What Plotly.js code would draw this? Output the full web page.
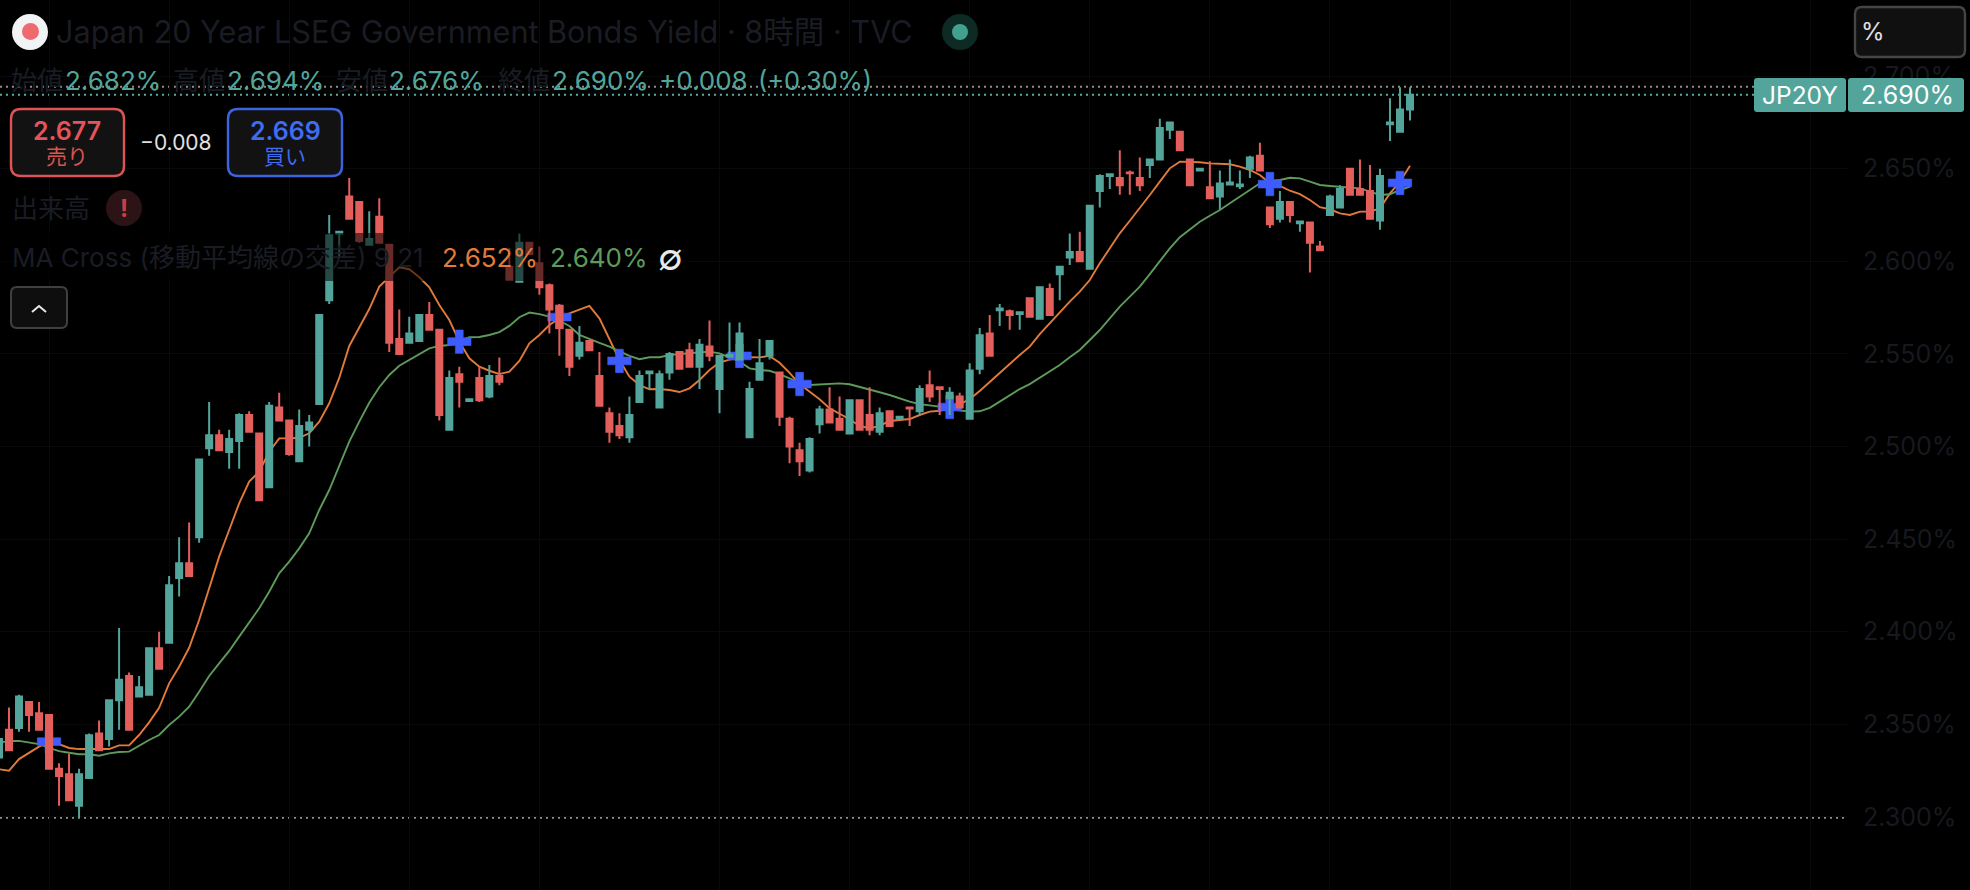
<!DOCTYPE html>
<html><head><meta charset="utf-8">
<script src="https://cdn.plot.ly/plotly-3.0.1.min.js"></script>
<style>html,body{margin:0;padding:0;background:#000;overflow:hidden}#c{width:1970px;height:890px}</style>
</head><body><div id="c"></div>
<script>
var firstBar = -1;
var open = [2.332,2.347,2.348,2.362,2.356,2.355,2.326,2.323,2.306,2.321,2.345,2.342,2.363,2.376,2.365,2.366,2.391,2.394,2.429,2.437,2.451,2.499,2.506,2.497,2.503,2.517,2.507,2.478,2.521,2.514,2.492,2.509,2.523,2.579,2.615,2.635,2.632,2.609,2.624,2.609,2.558,2.556,2.557,2.571,2.563,2.509,2.539,2.5245,2.537,2.527,2.538,2.597,2.589,2.610,2.599,2.587,2.576,2.563,2.549,2.557,2.538,2.518,2.511,2.505,2.524,2.5395,2.521,2.540,2.551,2.552,2.543,2.554,2.531,2.5485,2.547,2.505,2.536,2.549,2.540,2.515,2.498,2.487,2.512,2.520,2.515,2.507,2.525,2.517,2.508,2.519,2.515,2.521,2.519,2.533,2.532,2.526,2.527,2.515,2.542,2.561,2.5735,2.573,2.5715,2.580,2.569,2.585,2.593,2.602,2.605,2.596,2.638,2.646,2.645,2.648,2.645,2.652,2.655,2.671,2.670,2.655,2.649,2.640,2.635,2.6415,2.6405,2.650,2.657,2.629,2.623,2.632,2.6205,2.621,2.608,2.625,2.629,2.650,2.639,2.638,2.622,2.674,2.670,2.682];
var high = [2.342,2.359,2.366,2.362,2.362,2.355,2.329,2.334,2.326,2.345,2.352,2.363,2.402,2.378,2.376,2.391,2.400,2.430,2.451,2.459,2.493,2.524,2.509,2.509,2.518,2.519,2.507,2.524,2.529,2.514,2.520,2.517,2.571,2.625,2.616,2.645,2.632,2.627,2.634,2.609,2.574,2.570,2.571,2.578,2.563,2.541,2.543,2.5255,2.543,2.544,2.548,2.607,2.615,2.610,2.608,2.588,2.577,2.563,2.565,2.557,2.551,2.521,2.518,2.527,2.541,2.5405,2.541,2.551,2.551,2.556,2.558,2.568,2.549,2.567,2.567,2.535,2.558,2.557,2.540,2.516,2.502,2.505,2.522,2.532,2.527,2.525,2.525,2.532,2.521,2.519,2.516,2.5215,2.533,2.541,2.532,2.532,2.529,2.545,2.564,2.571,2.577,2.574,2.5725,2.580,2.586,2.588,2.597,2.615,2.616,2.630,2.647,2.647,2.660,2.649,2.656,2.655,2.677,2.675,2.670,2.655,2.650,2.654,2.649,2.655,2.649,2.657,2.664,2.629,2.638,2.632,2.6215,2.621,2.611,2.636,2.641,2.650,2.655,2.652,2.650,2.688,2.694,2.694];
var low = [2.332,2.336,2.346,2.346,2.347,2.326,2.306,2.309,2.2995,2.321,2.336,2.338,2.347,2.347,2.365,2.366,2.380,2.394,2.419,2.430,2.448,2.495,2.498,2.488,2.488,2.508,2.471,2.478,2.514,2.495,2.492,2.500,2.523,2.577,2.602,2.623,2.610,2.609,2.610,2.551,2.550,2.556,2.557,2.563,2.514,2.509,2.521,2.5245,2.524,2.526,2.533,2.590,2.589,2.604,2.582,2.561,2.549,2.538,2.547,2.552,2.522,2.502,2.504,2.502,2.524,2.531,2.521,2.536,2.542,2.543,2.531,2.546,2.518,2.548,2.547,2.505,2.536,2.547,2.511,2.491,2.484,2.486,2.507,2.513,2.509,2.507,2.509,2.506,2.506,2.511,2.515,2.511,2.517,2.524,2.517,2.517,2.521,2.515,2.539,2.549,2.565,2.563,2.563,2.570,2.569,2.571,2.579,2.598,2.600,2.596,2.629,2.639,2.636,2.636,2.638,2.645,2.655,2.666,2.660,2.641,2.649,2.634,2.628,2.641,2.639,2.645,2.649,2.618,2.621,2.621,2.616,2.594,2.606,2.625,2.629,2.636,2.636,2.623,2.617,2.665,2.670,2.676];
var close = [2.342,2.336,2.365,2.355,2.347,2.326,2.322,2.309,2.323,2.344,2.336,2.363,2.374,2.347,2.370,2.391,2.380,2.425,2.437,2.430,2.493,2.506,2.498,2.504,2.517,2.508,2.471,2.522,2.514,2.496,2.511,2.513,2.571,2.614,2.616,2.623,2.611,2.612,2.610,2.556,2.550,2.561,2.571,2.563,2.517,2.537,2.535,2.5255,2.525,2.538,2.535,2.590,2.610,2.604,2.586,2.574,2.564,2.543,2.556,2.552,2.522,2.508,2.506,2.517,2.538,2.5405,2.539,2.550,2.542,2.543,2.555,2.549,2.549,2.5495,2.561,2.531,2.545,2.557,2.516,2.500,2.492,2.504,2.520,2.513,2.509,2.525,2.509,2.509,2.518,2.511,2.516,2.5205,2.531,2.527,2.531,2.529,2.521,2.541,2.560,2.549,2.5745,2.571,2.5725,2.570,2.586,2.571,2.597,2.605,2.600,2.630,2.646,2.647,2.641,2.6475,2.641,2.655,2.672,2.675,2.660,2.641,2.650,2.634,2.642,2.6425,2.6415,2.656,2.649,2.620,2.632,2.625,2.6215,2.610,2.606,2.635,2.639,2.636,2.636,2.623,2.646,2.675,2.682,2.690];
var ma9 = [2.3257,2.3249,2.3312,2.3345,2.3379,2.3406,2.3393,2.3372,2.3366,2.3366,2.3366,2.3366,2.3386,2.3386,2.3442,2.3510,2.3589,2.3721,2.3811,2.3913,2.4063,2.4236,2.4405,2.4549,2.4693,2.4810,2.4864,2.4972,2.5044,2.5044,2.5047,2.5071,2.5134,2.5233,2.5370,2.5543,2.5643,2.5742,2.5863,2.5917,2.5968,2.5957,2.5914,2.5860,2.5764,2.5683,2.5566,2.5476,2.5431,2.5409,2.5391,2.5404,2.5462,2.5557,2.5602,2.5656,2.5692,2.5719,2.5741,2.5759,2.5692,2.5575,2.5467,2.5377,2.5332,2.5309,2.5310,2.5305,2.5294,2.5314,2.5359,2.5413,2.5453,2.5469,2.5475,2.5482,2.5481,2.5489,2.5452,2.5398,2.5337,2.5296,2.5255,2.5206,2.5175,2.5147,2.5111,2.5098,2.5111,2.5138,2.5143,2.5148,2.5170,2.5188,2.5193,2.5206,2.5229,2.5255,2.5300,2.5347,2.5398,2.5445,2.5494,2.5539,2.5607,2.5667,2.5728,2.5782,2.5836,2.5899,2.5989,2.6070,2.6151,2.6219,2.6286,2.6358,2.6430,2.6502,2.6538,2.6538,2.6535,2.6529,2.6525,2.6524,2.6511,2.6493,2.6466,2.6421,2.6407,2.6381,2.6363,2.6331,2.6292,2.6281,2.6259,2.6250,2.6268,2.6268,2.6286,2.6367,2.6430,2.6516];
var ma21 = [2.3400,2.3410,2.3410,2.3403,2.3393,2.3373,2.3355,2.3346,2.3338,2.3338,2.3330,2.3343,2.3350,2.3352,2.3384,2.3415,2.3442,2.3496,2.3541,2.3595,2.3676,2.3761,2.3829,2.3896,2.3973,2.4048,2.4126,2.4216,2.4315,2.4378,2.4450,2.4531,2.4657,2.4765,2.4891,2.5026,2.5134,2.5236,2.5320,2.5386,2.5436,2.5467,2.5499,2.5530,2.5543,2.5548,2.5566,2.5590,2.5591,2.5602,2.5618,2.5651,2.5698,2.5723,2.5715,2.5701,2.5679,2.5651,2.5602,2.5579,2.5560,2.5539,2.5512,2.5489,2.5471,2.5482,2.5482,2.5494,2.5499,2.5503,2.5506,2.5512,2.5503,2.5479,2.5459,2.5422,2.5413,2.5409,2.5391,2.5368,2.5344,2.5332,2.5336,2.5341,2.5341,2.5336,2.5323,2.5309,2.5293,2.5278,2.5260,2.5242,2.5229,2.5224,2.5215,2.5201,2.5193,2.5188,2.5190,2.5209,2.5242,2.5278,2.5310,2.5337,2.5372,2.5408,2.5440,2.5482,2.5521,2.5575,2.5629,2.5692,2.5755,2.5809,2.5863,2.5931,2.5998,2.6070,2.6130,2.6173,2.6214,2.6246,2.6277,2.6313,2.6349,2.6385,2.6421,2.6434,2.6439,2.6451,2.6448,2.6430,2.6412,2.6407,2.6403,2.6400,2.6394,2.6376,2.6358,2.6362,2.6385,2.6403];
var crossBars = [4,45,55,61,73,79,94,126,139];
var crossValues = [2.3406,2.5566,2.5699,2.5462,2.5489,2.5337,2.5213,2.6417,2.6423];
var yTicks = [2.30,2.35,2.40,2.45,2.50,2.55,2.60,2.65,2.70];
var xGrid = [4,16,28,40,53,71,84,96,108,120,132,144,156,168,180];
var sessionHigh = 2.6943, lastPrice = 2.690, sessionLow = 2.2995;
var titleText = 'Japan 20 Year LSEG Government Bonds Yield · 8時間 · TVC';

var W=1970,H=890,PW=1847;
var FONT='Inter, "Noto Sans CJK JP", sans-serif';
var TEAL='#53a59b',RED='#e25f5b',DIM='#1a1c24';
var bars=open.map(function(_,i){return firstBar+i;});
function px(x){return x/PW;} function py(y){return 1-y/H;}
function rrect(x0,y0,x1,y1,r,fill,line,lw){
 var a=px,b=py;
 var d='M '+a(x0+r)+' '+b(y0)+' L '+a(x1-r)+' '+b(y0)+' Q '+a(x1)+' '+b(y0)+' '+a(x1)+' '+b(y0+r)+
  ' L '+a(x1)+' '+b(y1-r)+' Q '+a(x1)+' '+b(y1)+' '+a(x1-r)+' '+b(y1)+' L '+a(x0+r)+' '+b(y1)+
  ' Q '+a(x0)+' '+b(y1)+' '+a(x0)+' '+b(y1-r)+' L '+a(x0)+' '+b(y0+r)+' Q '+a(x0)+' '+b(y0)+' '+a(x0+r)+' '+b(y0)+' Z';
 return {type:'path',xref:'paper',yref:'paper',path:d,fillcolor:fill,line:{color:line||fill,width:lw||0},layer:'above'};
}
function circ(cx,cy,r,fill){return {type:'circle',xref:'paper',yref:'paper',x0:px(cx-r),x1:px(cx+r),y0:py(cy+r),y1:py(cy-r),fillcolor:fill,line:{width:0},layer:'above'};}
function txt(x,y,t,size,color,anchor,weight){return {xref:'paper',yref:'paper',x:px(x),y:py(y),text:t,showarrow:false,xanchor:anchor||'left',yanchor:'middle',borderpad:0,font:{family:FONT,size:size,color:color,weight:weight||400}};}
function dotted(v,x1,c){return {type:'line',xref:'paper',yref:'y',x0:0,x1:px(x1),y0:v,y1:v,line:{color:c,width:2,dash:'2px,4px'},layer:'below'};}

var traces=[
 {type:'scatter',mode:'lines',x:bars,y:ma9,line:{color:'#e27a3a',width:1.9},zorder:-2,hoverinfo:'skip',name:'MA 9'},
 {type:'scatter',mode:'lines',x:bars,y:ma21,line:{color:'#5e9b5a',width:1.9},zorder:-2,hoverinfo:'skip',name:'MA 21'},
 {type:'scatter',mode:'markers',x:crossBars,y:crossValues,marker:{symbol:'cross',size:19.5,color:'#3d5cfb',line:{color:'#3d5cfb',width:0.6}},zorder:-1,hoverinfo:'skip',name:'Cross'},
 {type:'candlestick',x:bars,open:open,high:high,low:low,close:close,zorder:0,whiskerwidth:0,
  increasing:{line:{color:TEAL,width:2},fillcolor:TEAL},decreasing:{line:{color:RED,width:2},fillcolor:RED},hoverinfo:'skip',name:'JP20Y'}
];
var shapes=[
 dotted(sessionHigh,1847,'#8f8f8f'),dotted(lastPrice,1754,'#5aaaa0'),dotted(sessionLow,1844,'#8f8f8f'),
 {type:'rect',xref:'paper',yref:'paper',x0:0,x1:px(690),y0:py(281),y1:py(233),fillcolor:'rgba(0,0,0,0.55)',line:{width:0},layer:'above'},
 circ(30,32,18,'#f2f3f5'),circ(30.5,31.5,8.5,'#ee6a6e'),
 circ(960,32,18,'#0d2a25'),circ(960,32,8,'#43a08f'),
 rrect(11,109,124,176,10,'#121212','#db5458',2.4),
 rrect(228,109,342,176,10,'#121212','#3d63dd',2.4),
 circ(124,208,18,'#2c1315'),
 rrect(11,287,67,328,6,'#0e0e0e','#404040',2),
 {type:'path',xref:'paper',yref:'paper',path:'M '+px(32)+' '+py(312)+' L '+px(39)+' '+py(306)+' L '+px(46)+' '+py(312),line:{color:'#e8e8e8',width:2},layer:'above'},
 rrect(1855,7,1965,57,7,'#101010','#454545',2.4),
 rrect(1754,78,1846,112,3,TEAL),
 rrect(1848,78,1964,112,3,TEAL)
];
var annotations=[
 txt(55,32,titleText,30.6,DIM),
 txt(10,80,'始値',26,DIM),txt(64,80,'2.682%',26,TEAL),
 txt(172,80,'高値',26,DIM),txt(226,80,'2.694%',26,TEAL),
 txt(335,80,'安値',26,DIM),txt(388,80,'2.676%',26,TEAL),
 txt(497,80,'終値',26,DIM),txt(551,80,'2.690%',26,TEAL),
 txt(658,80,'+0.008',26,TEAL),txt(757,80,'(+0.30%)',25.4,TEAL),
 txt(67,131,'2.677',25,'#e5545a','center',600),txt(67,157,'売り',21,'#d9534f','center'),
 txt(176,143,'−0.008',21,'#e0e0e0','center'),
 txt(285,131,'2.669',25,'#3f6cf0','center',600),txt(285,157,'買い',21,'#3f6cf0','center'),
 txt(11,208,'出来高',26,DIM),txt(124,208,'!',24,'#c9404a','center',700),
 txt(11,258,'MA Cross (移動平均線の交差) 9 21',26,DIM),
 txt(441,258,'2.652%',26,'#e27a3a'),txt(549,258,'2.640%',26,'#5e9b5a'),
 txt(670,257,'∅',36,'#e8e8e8','center'),
 txt(1860,32,'%',24,'#e0e0e0'),
 txt(1800,95,'JP20Y',24.5,'#ffffff','center'),txt(1907,95,'2.690%',25,'#ffffff','center')
];
var layout={
 width:W,height:H,autosize:false,margin:{l:0,r:W-PW,t:0,b:0,pad:0},
 paper_bgcolor:'#000',plot_bgcolor:'#000',showlegend:false,boxgap:0.4,boxgroupgap:0,dragmode:false,
 xaxis:{type:'linear',range:[-0.9,183.67],rangeslider:{visible:false},showticklabels:false,ticks:'',tickmode:'array',tickvals:xGrid,showgrid:true,gridcolor:'#090a0c',gridwidth:1,zeroline:false,showline:false},
 yaxis:{side:'right',range:[2.2605,2.7411],tickmode:'array',tickvals:yTicks,ticktext:yTicks.map(function(v){return v.toFixed(3)+'%';}),ticks:'',ticklabelstandoff:10,
  tickfont:{family:FONT,size:25,color:'#17191f'},showgrid:true,gridcolor:'#090a0c',gridwidth:1,zeroline:false,showline:true,linecolor:'#101114',linewidth:1,automargin:false},
 shapes:shapes,annotations:annotations
};
Plotly.newPlot('c',traces,layout,{displayModeBar:false,staticPlot:true});
</script></body></html>
